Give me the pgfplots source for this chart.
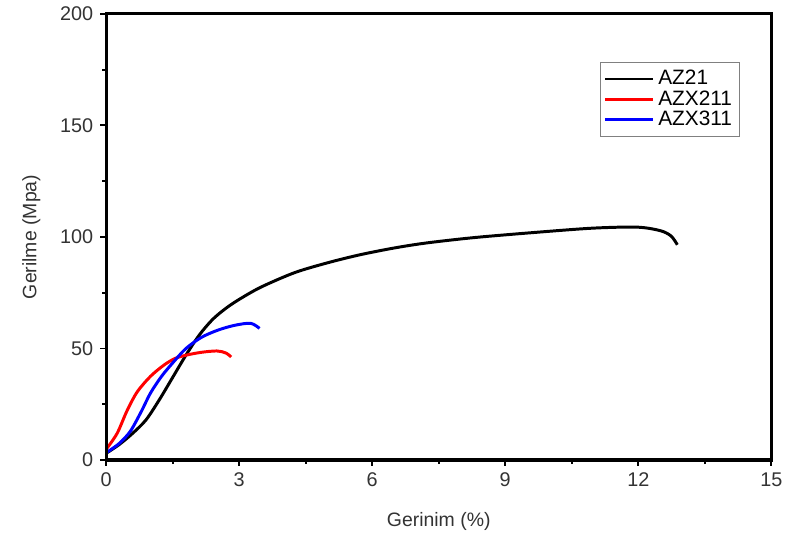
\documentclass[border=0pt]{standalone}
\usepackage{fontspec}
\setmainfont{Liberation Sans}
\usepackage{pgfplots}
\pgfplotsset{compat=1.18}
\begin{document}
\begin{tikzpicture}
\begin{axis}[
  scale only axis, width=335.5pt, height=225pt,
  xmin=0, xmax=15, ymin=0, ymax=200,
  xtick={0,3,...,15}, ytick={0,50,...,200},
  minor x tick num=1, minor y tick num=1,
  tick pos=left, tick align=outside,
  major tick length=3pt, minor tick length=2pt,
  every tick/.style={line width=1pt, black},
  tick label style={font=\fontsize{10}{12}\selectfont, text=black!80},
  /pgf/number format/assume math mode=true,
  xlabel={Gerinim (\%)}, ylabel={Gerilme (Mpa)},
  label style={font=\fontsize{9.8}{12}\selectfont, text=black!80},
  xlabel style={yshift=-6pt},
  ylabel style={yshift=3pt},
  legend style={at={(0.742,0.893)}, anchor=north west, draw=black!50, line width=0.5pt,
    font=\fontsize{10.5}{11}\selectfont, row sep=-2.5pt, inner sep=2pt},
  legend cell align=left,
  legend image code/.code={\draw[#1, line width=1.3pt] (0pt,0pt) -- (24pt,0pt);},
]
\addplot[black, line width=1.5pt, smooth] coordinates {
 (0,3) (0.3,7) (0.6,12) (0.9,18) (1.2,27) (1.5,37) (1.8,47) (2.1,56) (2.4,63) (2.7,68) (3.0,72) (3.49,77.5) (4.25,84) (4.99,88.4) (5.72,92) (6.48,95) (7.22,97.3) (8.34,99.8) (9.9,102.4) (11.02,104) (11.98,104.4) (12.5,102.8) (12.74,100.4) (12.88,96.5)
};
\addlegendentry{AZ21}
\addplot[red, line width=1.5pt, smooth] coordinates {
 (0.02,5.3) (0.25,12) (0.47,22) (0.7,30.5) (1.0,37.5) (1.3,42.5) (1.55,45.5) (1.8,47) (2.15,48.3) (2.5,48.9) (2.7,48) (2.82,46.2)
};
\addlegendentry{AZX211}
\addplot[blue, line width=1.5pt, smooth] coordinates {
 (0.02,3.5) (0.3,7.5) (0.55,13) (0.8,22) (1.0,30) (1.25,37.5) (1.5,43.5) (1.8,50) (2.15,55) (2.53,58.3) (2.9,60.4) (3.26,61.3) (3.46,59)
};
\addlegendentry{AZX311}
\end{axis}
\draw[line width=1.6pt] (current axis.south west) rectangle (current axis.north east);
\useasboundingbox ([shift={(-53.5pt,-42pt)}]current axis.south west) rectangle ([shift={(5.5pt,7pt)}]current axis.north east);
\end{tikzpicture}
\end{document}
